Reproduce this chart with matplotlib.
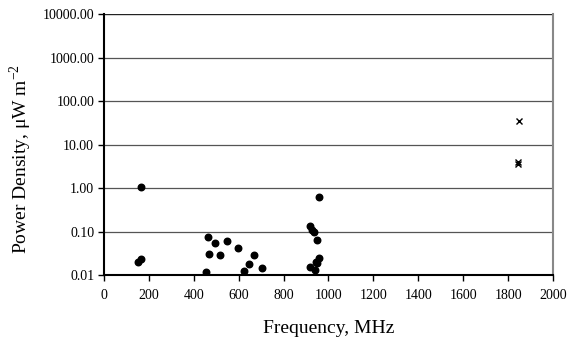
import matplotlib
matplotlib.use("Agg")
import matplotlib.pyplot as plt
from matplotlib.ticker import FixedLocator, FuncFormatter, NullLocator

# measured points (frequency in MHz, power density in uW/m^2)
freq_dots = [166, 153, 166, 464, 495, 550, 599, 470, 519, 670, 648, 702, 622, 453,
             956, 919, 926, 936, 951, 956, 945, 919, 942, 950]
pd_dots = [1.05, 0.0195, 0.0238, 0.0755, 0.0537, 0.062, 0.0427, 0.031, 0.029, 0.0294,
           0.018, 0.0145, 0.0126, 0.0119,
           0.64, 0.135, 0.109, 0.098, 0.065, 0.0245, 0.0204, 0.0155, 0.0129, 0.019]

freq_cross = [1849, 1843, 1845]
pd_cross = [35.5, 3.6, 3.9]

y_ticks = [0.01, 0.1, 1, 10, 100, 1000, 10000]
x_ticks = list(range(0, 2001, 200))

plt.rcParams['font.family'] = ['Liberation Serif', 'DejaVu Serif']

fig = plt.figure(figsize=(5.68, 3.40), dpi=100)
ax = fig.add_axes([0.183, 0.191, 0.7906, 0.767])

for y in y_ticks[1:]:
    ax.axhline(y, color='#222222' if y == 10000 else '#555555', lw=1.0 if y == 10000 else 0.9, zorder=1)

ax.plot(freq_dots, pd_dots, 'o', color='black', markersize=4.7, zorder=3)
ax.plot(freq_cross, pd_cross, 'x', color='black', markersize=4.5, mew=1.0, zorder=3)

ax.set_yscale('log')
ax.set_ylim(0.01, 10000)
ax.set_xlim(0, 2000)
ax.yaxis.set_major_locator(FixedLocator(y_ticks))
ax.yaxis.set_minor_locator(NullLocator())
ax.yaxis.set_major_formatter(FuncFormatter(lambda v, p: "%.2f" % v))
ax.set_xticks(x_ticks)

ax.spines['top'].set_visible(False)
ax.spines['right'].set_color('#888888')
ax.spines['right'].set_linewidth(1.5)
ax.spines['left'].set_linewidth(1.5)
ax.spines['bottom'].set_linewidth(1.5)

ax.tick_params(axis='both', direction='out', length=4, width=1, labelsize=10, pad=3)
ax.tick_params(axis='x', pad=6)

ax.set_xlabel("Frequency, MHz", fontsize=14, labelpad=13)
ax.set_ylabel(r"Power Density, $\mathregular{\mu}$W m$^{\mathregular{-2}}$", fontsize=14, labelpad=7)
ax.yaxis.set_label_coords(-0.155, 0.445)

fig.savefig("out.png", dpi=100)
